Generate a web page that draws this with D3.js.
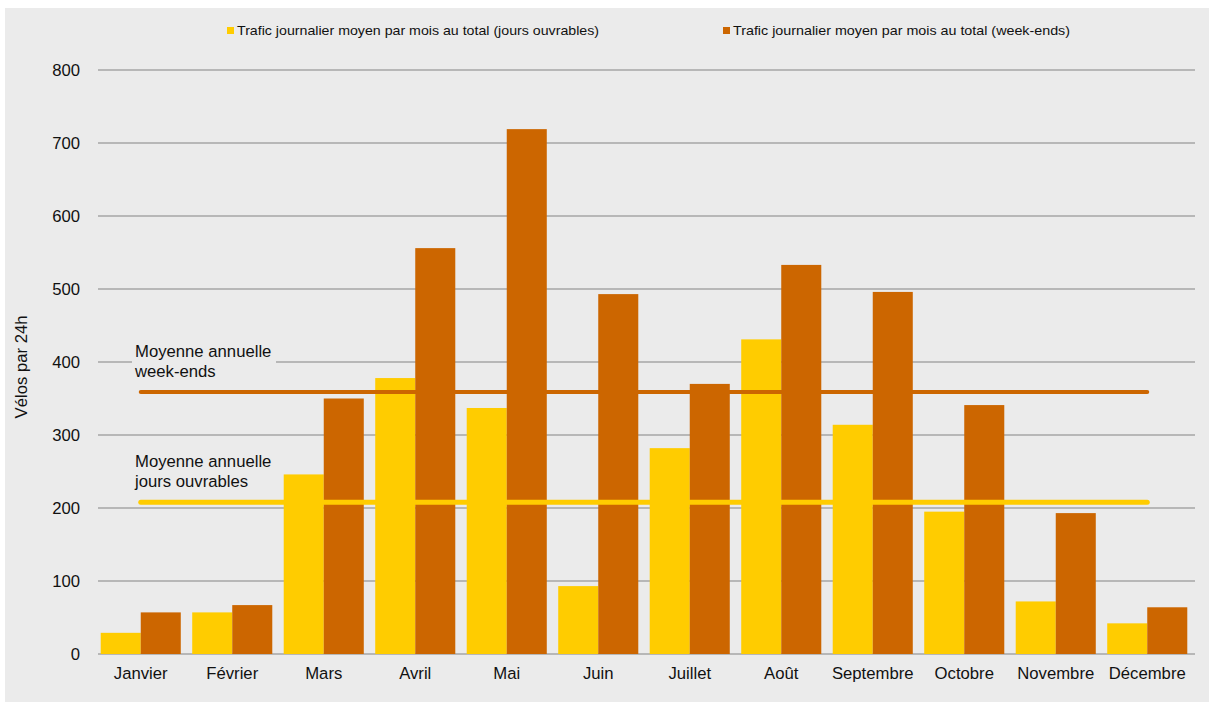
<!DOCTYPE html>
<html><head><meta charset="utf-8">
<script src="https://cdn.jsdelivr.net/npm/d3@7"></script>
<style>
html,body{margin:0;padding:0;background:#fff;}
svg{display:block;font-family:"Liberation Sans",Arial,sans-serif;}
</style></head>
<body>
<svg id="chart" width="1209" height="702"></svg>
<script>
const months = ["Janvier","Février","Mars","Avril","Mai","Juin","Juillet","Août","Septembre","Octobre","Novembre","Décembre"];
const joursOuvrables = [29,57,246,378,337,93,282,431,314,195,72,42];
const weekEnds = [57,67,350,556,719,493,370,533,496,341,193,64];
const seriesNames = ["Trafic journalier moyen par mois au total (jours ouvrables)","Trafic journalier moyen par mois au total (week-ends)"];
const moyenneOuvrables = 208;
const moyenneWeekEnds = 359;
const yTicks = [0,100,200,300,400,500,600,700,800];
const yTitle = "Vélos par 24h";
const annotWE = ["Moyenne annuelle","week-ends"];
const annotJO = ["Moyenne annuelle","jours ouvrables"];

const colors = ["#FFCC00","#CC6600"];
const bg = "#EBEBEB";
const fs = 16.7;
const svg = d3.select("#chart");

svg.append("rect").attr("x",5).attr("y",8).attr("width",1204).attr("height",694).attr("fill",bg);

const L=98, R=1195, T=70, B=654;
const x = d3.scaleBand().domain(months).range([95,1193]).paddingInner(0.125).paddingOuter(0.0625);
const xs = d3.scaleBand().domain([0,1]).range([0,x.bandwidth()]);
const y = d3.scaleLinear().domain([0,800]).range([B,T]);

// grid
svg.append("g").selectAll("line").data(yTicks).join("line")
  .attr("x1",L).attr("x2",R).attr("y1",d=>y(d)).attr("y2",d=>y(d))
  .attr("stroke","#A6A6A6").attr("stroke-width",1.3);

// y tick labels
svg.append("g").selectAll("text").data(yTicks).join("text")
  .attr("x",80).attr("y",d=>y(d)).attr("dy","0.35em").attr("text-anchor","end")
  .attr("font-size",fs).attr("fill","#111").text(d=>d);

// bars
const series=[joursOuvrables,weekEnds];
series.forEach((vals,i)=>{
  svg.append("g").selectAll("rect").data(vals).join("rect")
    .attr("x",(d,j)=>x(months[j])+xs(i)).attr("width",xs.bandwidth())
    .attr("y",d=>y(d)).attr("height",d=>y(0)-y(d))
    .attr("fill",colors[i]);
});

// x labels
svg.append("g").selectAll("text").data(months).join("text")
  .attr("x",d=>x(d)+x.bandwidth()/2).attr("y",679).attr("text-anchor","middle")
  .attr("font-size",fs).attr("fill","#111").text(d=>d);

// annotations
function annot(lines, yBase){
  svg.append("rect").attr("x",132).attr("y",yBase-14).attr("width",144).attr("height",40).attr("fill",bg);
  lines.forEach((t,k)=>{
    svg.append("text").attr("x",135).attr("y",yBase+k*20).attr("font-size",fs).attr("fill","#111").text(t);
  });
}
annot(annotWE,357);
annot(annotJO,467);

// average lines
const x1 = x(months[0])+x.bandwidth()/2, x2 = x(months[months.length-1])+x.bandwidth()/2;
svg.append("line").attr("x1",x1).attr("x2",x2).attr("y1",y(moyenneWeekEnds)).attr("y2",y(moyenneWeekEnds))
  .attr("stroke",colors[1]).attr("stroke-width",4).attr("stroke-linecap","round");
svg.append("line").attr("x1",x1).attr("x2",x2).attr("y1",y(moyenneOuvrables)).attr("y2",y(moyenneOuvrables))
  .attr("stroke",colors[0]).attr("stroke-width",5).attr("stroke-linecap","round");

// y title
svg.append("text").attr("transform","translate(27,367) rotate(-90)").attr("text-anchor","middle")
  .attr("font-size",fs).attr("fill","#111").text(yTitle);

// legend
const legX=[227,723];
seriesNames.forEach((n,i)=>{
  svg.append("rect").attr("x",legX[i]).attr("y",27).attr("width",7).attr("height",7).attr("fill",colors[i]);
  svg.append("text").attr("x",legX[i]+10).attr("y",35).attr("font-size",13).attr("fill","#111")
    .attr("textLength",i===0?362:337).attr("lengthAdjust","spacingAndGlyphs").text(n);
});
</script>
</body></html>
